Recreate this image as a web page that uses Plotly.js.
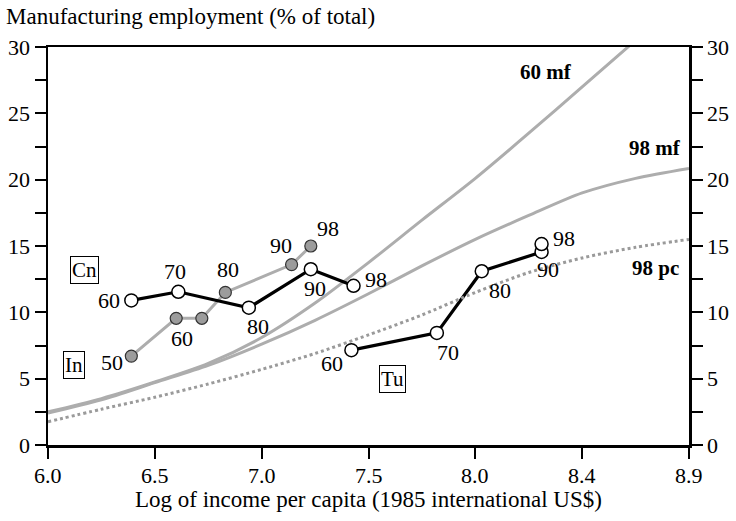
<!DOCTYPE html>
<html>
<head>
<meta charset="utf-8">
<script src="https://cdn.plot.ly/plotly-3.0.1.min.js"></script>
<style>html,body{margin:0;padding:0;background:#fff;}#chart{width:736px;height:521px;}</style>
</head>
<body>
<div id="chart"></div>
<script>
// ---- data ----
const xTickVals = [6.0, 6.5, 7.0, 7.5, 8.0, 8.5, 9.0];
const xTickText = ['6.0', '6.5', '7.0', '7.5', '8.0', '8.4', '8.9'];
const yTickVals = [0, 5, 10, 15, 20, 25, 30];

const curveX = [6.0, 6.25, 6.5, 6.75, 7.0, 7.25, 7.5, 7.75, 8.0, 8.25, 8.5, 8.75, 9.0];
const mf60Y = [2.5, 3.5, 4.75, 6.15, 8.1, 10.7, 13.75, 16.95, 20.1, 23.5, 27.0, 30.5];
const mf98Y = [2.4, 3.4, 4.7, 6.0, 7.6, 9.4, 11.4, 13.5, 15.5, 17.3, 19.0, 20.1, 20.85];
const pc98Y = [1.75, 2.7, 3.6, 4.6, 5.7, 6.9, 8.3, 9.8, 11.5, 13.0, 14.1, 14.9, 15.5];
const curveNames = ['60 mf', '98 mf', '98 pc'];
const curveLabelX = [8.33, 8.84, 8.845];
const curveLabelY = [28.1, 22.4, 13.35];

const cnX = [6.39, 6.61, 6.94, 7.23, 7.43];
const cnY = [10.9, 11.55, 10.35, 13.25, 12.0];
const cnYears = ['60', '70', '80', '90', '98'];

const inX = [6.39, 6.60, 6.72, 6.83, 7.14, 7.23];
const inY = [6.7, 9.55, 9.55, 11.5, 13.6, 15.0];
const inYears = ['50', '60', '', '80', '90', '98'];

const tuX = [7.42, 7.82, 8.03, 8.31, 8.31];
const tuY = [7.15, 8.45, 13.1, 14.55, 15.15];
const tuYears = ['60', '70', '80', '90', '98'];

const countryNames = ['Cn', 'In', 'Tu'];
const countryBoxX = [6.173, 6.122, 7.61];
const countryBoxY = [13.2, 6.03, 4.97];

const xTitle = 'Log of income per capita (1985 international US$)';

// ---- label offsets (pixels) ----
const cnOff = [[-22, 0], [-3, -20], [9, 19], [4, 19], [22, -6]];
const inOff = [[-19, 6], [6, 20], [0, 0], [3, -23], [-11, -19], [17, -18]];
const tuOff = [[-19, 13], [11, 20], [18, 19], [6, 18], [22, -6]];

const FONT = 'Liberation Serif, Times New Roman, serif';
const grey = '#adadad';

const traces = [
  {x: curveX.slice(0, mf60Y.length), y: mf60Y, mode: 'lines', line: {color: grey, width: 3, shape: 'spline', smoothing: 0.8}, hoverinfo: 'skip'},
  {x: curveX, y: mf98Y, mode: 'lines', line: {color: grey, width: 3, shape: 'spline', smoothing: 0.8}, hoverinfo: 'skip'},
  {x: curveX, y: pc98Y, mode: 'lines', yaxis: 'y2', line: {color: '#9a9a9a', width: 3, dash: 'dot', shape: 'spline', smoothing: 0.8}, hoverinfo: 'skip'},
  {x: inX, y: inY, mode: 'lines+markers', line: {color: grey, width: 3},
   marker: {size: 12, color: '#9c9c9c', line: {color: '#333', width: 1.2}}},
  {x: cnX, y: cnY, mode: 'lines+markers', line: {color: '#000', width: 3.2},
   marker: {size: 13, color: '#fff', line: {color: '#000', width: 1.5}}},
  {x: tuX, y: tuY, mode: 'lines+markers', line: {color: '#000', width: 3.2},
   marker: {size: 13, color: '#fff', line: {color: '#000', width: 1.5}}}
];

const annotations = [];
function addLabels(xs, ys, txt, off) {
  for (let i = 0; i < xs.length; i++) {
    if (!txt[i]) continue;
    annotations.push({x: xs[i], y: ys[i], xref: 'x', yref: 'y', text: txt[i], showarrow: false,
      xshift: off[i][0], yshift: -off[i][1], font: {family: FONT, size: 22, color: '#000'}});
  }
}
addLabels(cnX, cnY, cnYears, cnOff);
addLabels(inX, inY, inYears, inOff);
addLabels(tuX, tuY, tuYears, tuOff);
for (let i = 0; i < countryNames.length; i++) {
  annotations.push({x: countryBoxX[i], y: countryBoxY[i], xref: 'x', yref: 'y', text: countryNames[i],
    showarrow: false, bordercolor: '#000', borderwidth: 1, borderpad: 1, bgcolor: '#fff',
    font: {family: FONT, size: 21, color: '#000'}});
}
for (let i = 0; i < curveNames.length; i++) {
  annotations.push({x: curveLabelX[i], y: curveLabelY[i], xref: 'x', yref: 'y', text: '<b>' + curveNames[i] + '</b>',
    showarrow: false, font: {family: FONT, size: 21, color: '#000'}});
}
// x tick labels placed below the ticks
for (let i = 0; i < xTickVals.length; i++) {
  annotations.push({x: xTickVals[i], y: -0.077, xref: 'x', yref: 'paper', xanchor: 'center', yanchor: 'middle',
    text: xTickText[i], showarrow: false, font: {family: FONT, size: 22, color: '#000'}});
}
annotations.push({x: 0.5, y: -0.136, xref: 'paper', yref: 'paper', xanchor: 'center', yanchor: 'middle',
  text: xTitle, showarrow: false, font: {family: FONT, size: 23, color: '#000'}});

const yCommon = {
  range: [0, 30], tickvals: yTickVals, ticks: 'outside', ticklen: 11, tickwidth: 2, tickcolor: '#000',
  showline: true, linecolor: '#000', linewidth: 2.5, showgrid: false, zeroline: false,
  minor: {dtick: 2.5, tick0: 0, ticks: 'outside', ticklen: 11, tickwidth: 2, tickcolor: '#000'},
  tickfont: {family: FONT, size: 22, color: '#000'}, fixedrange: true
};

const layout = {
  width: 736, height: 521,
  margin: {l: 48, r: 47, t: 47, b: 76},
  paper_bgcolor: '#fff', plot_bgcolor: '#fff',
  showlegend: false,
  title: {text: 'Manufacturing employment (% of total)', x: 6 / 736, xref: 'container', xanchor: 'left',
    y: 1 - 16 / 521, yref: 'container', yanchor: 'middle', font: {family: FONT, size: 23, color: '#000'}},
  xaxis: {
    range: [6.0, 9.0], tickvals: xTickVals, ticks: 'outside', ticklen: 11, tickwidth: 2,
    tickcolor: '#000', showline: true, linecolor: '#000', linewidth: 2.5, mirror: true, showgrid: false,
    zeroline: false, showticklabels: false
  },
  yaxis: Object.assign({}, yCommon, {side: 'left'}),
  yaxis2: Object.assign({}, yCommon, {side: 'right', overlaying: 'y'}),
  annotations: annotations
};

Plotly.newPlot('chart', traces, layout, {staticPlot: true, displayModeBar: false});
</script>
</body>
</html>
